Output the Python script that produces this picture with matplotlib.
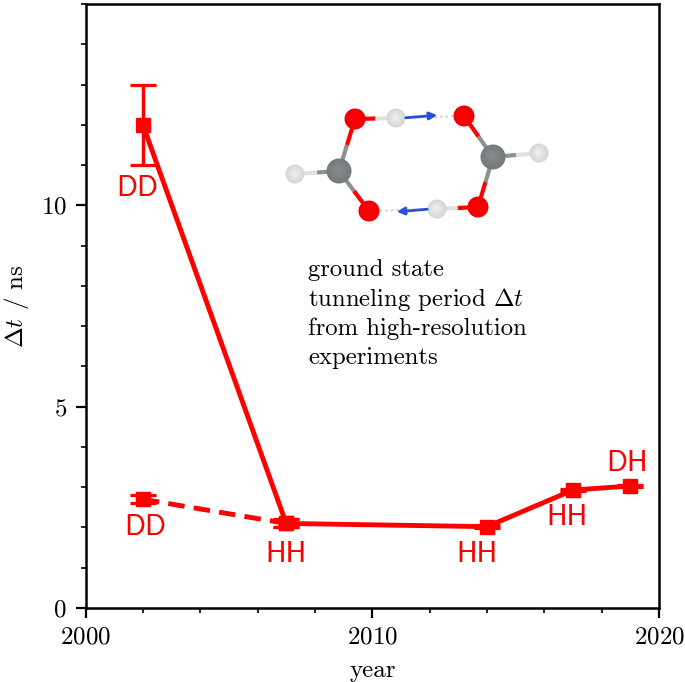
"""
Tunneling period of the formic acid dimer from high-resolution experiments.
"""

import numpy as np
import matplotlib
matplotlib.use("Agg")
import matplotlib.pyplot as plt
from matplotlib.patches import Circle
from matplotlib.ticker import MultipleLocator

plt.rcParams["font.family"] = ["cmr10", "DejaVu Serif"]
plt.rcParams["mathtext.fontset"] = "cm"
plt.rcParams["axes.formatter.use_mathtext"] = True
plt.rcParams["axes.unicode_minus"] = False

RED = "#ff0000"

# measurements
solid_years = [2002, 2007, 2014, 2017, 2019]
solid_dt = [12.0, 2.1, 2.02, 2.93, 3.03]
solid_err = [1.0, 0.1, 0.03, 0.03, 0.03]

dashed_years = [2002, 2007]
dashed_dt = [2.7, 2.1]
dashed_err = [0.1, 0.1]

y_ticks = [0, 5, 10]
x_ticks = [2000, 2010, 2020]

# labels next to the points
label_texts = ["DD", "DD", "HH", "HH", "HH", "DH"]
label_x = [2001.8, 2002.1, 2007.0, 2013.65, 2016.8, 2018.9]
label_y = [10.42, 2.0, 1.32, 1.33, 2.25, 3.58]

# molecule, in figure pixels
atom_kind = ["O", "O", "O", "O", "C", "C", "H", "H", "H", "H"]
atom_x = [355, 464, 478, 369, 339, 493, 396, 437, 295, 539]
atom_y = [119, 116, 207, 211, 171, 157, 118, 209, 174, 153]
bond_from = [4, 4, 4, 5, 5, 5, 0, 2]
bond_to = [0, 3, 8, 1, 2, 9, 6, 7]

atom_radius = {"O": 10.5, "C": 12.5, "H": 9.5}
atom_color = {"O": "#ff0000", "C": "#83888b", "H": "#f2f3f3"}
bond_color = {"O": "#ff0000", "C": "#8c9092", "H": "#e0e2e2"}


def draw_molecule(fig):
    ax = fig.add_axes([0, 0, 1, 1], zorder=3)
    ax.set_xlim(0, 685)
    ax.set_ylim(682, 0)
    ax.axis("off")
    ax.patch.set_alpha(0)

    for a, b in zip(bond_from, bond_to):
        mx = (atom_x[a] + atom_x[b]) / 2
        my = (atom_y[a] + atom_y[b]) / 2
        ax.plot([atom_x[a], mx], [atom_y[a], my], lw=3.0, color=bond_color[atom_kind[a]],
                solid_capstyle="butt", zorder=1)
        ax.plot([mx, atom_x[b]], [my, atom_y[b]], lw=3.0, color=bond_color[atom_kind[b]],
                solid_capstyle="butt", zorder=1)

    # hydrogen bonds (dotted) and transfer arrows
    ax.plot([396, 464], [118, 116], ls=":", lw=1.5, color="#c4ccf4", zorder=1)
    ax.plot([437, 369], [209, 211], ls=":", lw=1.5, color="#c4ccf4", zorder=1)
    ax.annotate("", xy=(440, 115), xytext=(403, 118),
                arrowprops=dict(arrowstyle="-|>", color="#2a50d8", lw=2, mutation_scale=11))
    ax.annotate("", xy=(394, 212), xytext=(430, 209),
                arrowprops=dict(arrowstyle="-|>", color="#2a50d8", lw=2, mutation_scale=11))

    # spheres with a soft highlight
    for kind, x, y in zip(atom_kind, atom_x, atom_y):
        r = atom_radius[kind]
        base = np.array(matplotlib.colors.to_rgb(atom_color[kind]))
        for f in np.linspace(1, 0.15, 8):
            if kind == "H":
                shade = base * (0.88 + 0.12 * (1 - f))
            elif kind == "C":
                shade = base * (0.9 + 0.14 * (1 - f))
            else:
                shade = base * (0.94 + 0.06 * (1 - f))
            ax.add_patch(Circle((x - 0.1 * r * (1 - f), y - 0.1 * r * (1 - f)), r * f,
                                fc=np.clip(shade, 0, 1), ec="none", zorder=2))


fig = plt.figure(figsize=(6.85, 6.82), dpi=100)
ax = fig.add_axes([85.5 / 685, (682 - 608) / 682, (659 - 85.5) / 685, (608 - 4) / 682])

ax.errorbar(solid_years, solid_dt, yerr=solid_err, color=RED, lw=3.5, marker="s", ms=10.5,
            elinewidth=2.5, capsize=9.5, capthick=2.3, clip_on=False, zorder=3)
ax.errorbar(dashed_years, dashed_dt, yerr=dashed_err, color=RED, lw=3.5, ls=(0, (3.4, 1.9)),
            marker="s", ms=10.5, elinewidth=2.5, capsize=9.5, capthick=2.3, zorder=3)

for s, x, y in zip(label_texts, label_x, label_y):
    ax.text(x, y, s, color=RED, fontsize=21, family="cmss10", ha="center", va="center")

fig.text(308 / 685, 1 - 270 / 682, "ground state", fontsize=17.8, va="center", ha="left")
fig.text(308 / 685, 1 - 299 / 682, r"tunneling period $\Delta t$", fontsize=17.8, va="center", ha="left")
fig.text(308 / 685, 1 - 329 / 682, "from high-resolution", fontsize=17.8, va="center", ha="left")
fig.text(308 / 685, 1 - 358 / 682, "experiments", fontsize=17.8, va="center", ha="left")

ax.set_xlim(2000, 2020)
ax.set_ylim(0, 15)
ax.set_xticks(x_ticks)
ax.set_yticks(y_ticks)
ax.xaxis.set_minor_locator(MultipleLocator(2))
ax.yaxis.set_minor_locator(MultipleLocator(1))
ax.ticklabel_format(useOffset=False, style="plain")
ax.tick_params(which="major", direction="out", length=7.5, width=1.6, labelsize=18, pad=6)
ax.tick_params(which="minor", direction="out", length=3.5, width=1.2)
for spine in ax.spines.values():
    spine.set_linewidth(1.8)

ax.set_xlabel("year", fontsize=18, labelpad=8)
ax.set_ylabel(r"$\Delta t$ / ns", fontsize=18, labelpad=7)

draw_molecule(fig)

fig.savefig("out.png", dpi=100)
